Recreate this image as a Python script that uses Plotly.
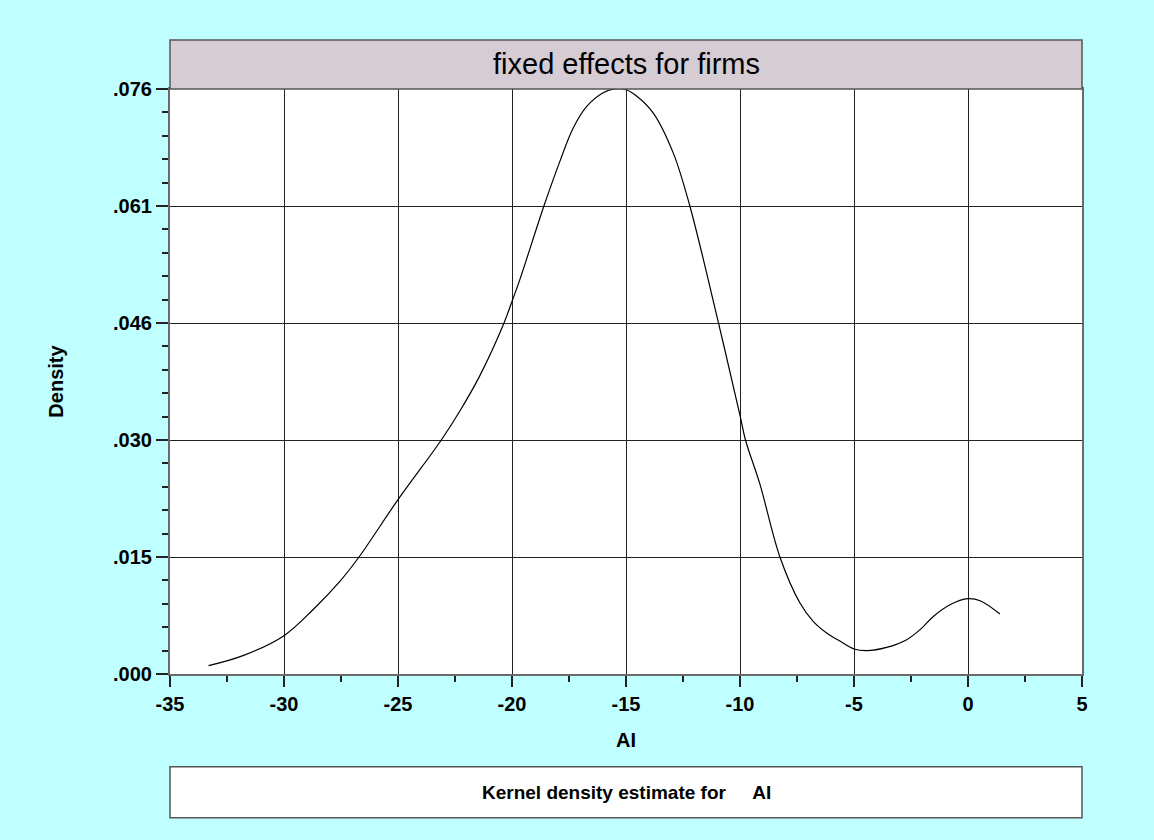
import plotly.graph_objects as go

# Data
ai_x = [-33.31, -31.8, -30.0, -28.73, -27.56, -26.71, -25.0, -23.1, -22.3, -21.42,
        -20.35, -20.0, -19.66, -18.6, -17.9, -17.32, -16.73, -16.0, -15.49, -15.0,
        -14.54, -13.81, -12.93, -12.2, -10.96, -10.0, -9.76, -9.13, -8.25, -7.37,
        -6.79, -6.2, -5.62, -5.0, -4.45, -3.57, -2.69, -2.1, -1.52, -0.79,
        0.0, 0.53, 1.4]
density_y = [0.00108, 0.00238, 0.00498, 0.00835, 0.0120, 0.0152, 0.02265, 0.0304, 0.0341, 0.0387,
             0.0456, 0.0484, 0.0512, 0.0608, 0.0666, 0.0709, 0.0737, 0.0755, 0.0760, 0.0759,
             0.0751, 0.0729, 0.0677, 0.0608, 0.0458, 0.0336, 0.0304, 0.0247, 0.0152, 0.00922,
             0.00684, 0.00533, 0.00428, 0.00325, 0.00303, 0.00345, 0.00446, 0.00576, 0.00748, 0.0090,
             0.00978, 0.00952, 0.0078]

x_tickvals = [-35, -30, -25, -20, -15, -10, -5, 0, 5]
x_ticktext = ["-35", "-30", "-25", "-20", "-15", "-10", "-5", "0", "5"]
y_tickvals = [0.0, 0.0152, 0.0304, 0.0456, 0.0608, 0.076]
y_ticktext = [".000", ".015", ".030", ".046", ".061", ".076"]

title_text = "fixed effects for firms"
legend_text = "Kernel density estimate for\u00a0\u00a0\u00a0\u00a0\u00a0AI"

BG = "#c0ffff"
FRAME = "#6a6a6a"
FONT = "Arial, Liberation Sans, sans-serif"

fig = go.Figure()
fig.add_trace(go.Scatter(
    x=ai_x, y=density_y, mode="lines",
    line=dict(color="black", width=1.2, shape="spline", smoothing=1.0),
    showlegend=False, hoverinfo="skip"))

fig.update_layout(
    width=1154, height=840,
    paper_bgcolor=BG, plot_bgcolor="white",
    margin=dict(l=170, r=72, t=89, b=166),
    font=dict(family=FONT, color="black"),
    showlegend=False,
)

fig.update_xaxes(
    range=[-35, 5], tickvals=x_tickvals, ticktext=x_ticktext,
    ticks="outside", ticklen=11, tickwidth=1.5, tickcolor="#222",
    tickfont=dict(size=20, family=FONT, weight="bold"),
    showgrid=True, gridcolor="#222", gridwidth=1,
    showline=True, linecolor=FRAME, linewidth=2, mirror=True,
    zeroline=False,
    minor=dict(dtick=2.5, ticks="outside", ticklen=6, tickcolor="#222", showgrid=False),
    title=dict(text="AI", font=dict(size=20, family=FONT, weight="bold"), standoff=19),
)
fig.update_yaxes(
    range=[0, 0.076], tickvals=y_tickvals, ticktext=y_ticktext,
    ticks="outside", ticklen=12, tickwidth=1.5, tickcolor="#222",
    tickfont=dict(size=20, family=FONT, weight="bold"),
    showgrid=True, gridcolor="#222", gridwidth=1,
    showline=True, linecolor=FRAME, linewidth=2, mirror=True,
    zeroline=False,
    minor=dict(tick0=0, dtick=0.00304, ticks="outside", ticklen=6, tickcolor="#222", showgrid=False),
    title=dict(text="Density", font=dict(size=20, family=FONT, weight="bold"), standoff=44),
)

# Title box
fig.add_shape(type="rect", xref="paper", yref="paper",
              x0=0, x1=1, y0=1, y1=1 + 49 / 585,
              fillcolor="#d5ccd4", line=dict(color="#555", width=1.5), layer="above")
fig.add_annotation(text=title_text, xref="paper", yref="paper",
                   x=0.5, y=1 + 24.5 / 585, showarrow=False,
                   font=dict(size=29, family=FONT, color="black"),
                   xanchor="center", yanchor="middle")

# Legend box
fig.add_shape(type="rect", xref="paper", yref="paper",
              x0=0, x1=1, y0=(674.3 - 818) / 585, y1=(674.3 - 767) / 585,
              fillcolor="white", line=dict(color="#555", width=1.5))
fig.add_annotation(text=legend_text, xref="paper", yref="paper",
                   x=0.5, y=(674.3 - 792.5) / 585, showarrow=False,
                   font=dict(size=19, family=FONT, color="black", weight="bold"),
                   xanchor="center", yanchor="middle")

fig.write_html(
    "out.html",
    config={"displayModeBar": False},
    post_script="document.body.style.margin='0';document.body.style.overflow='hidden';"
                "document.body.style.background='" + BG + "';",
)
